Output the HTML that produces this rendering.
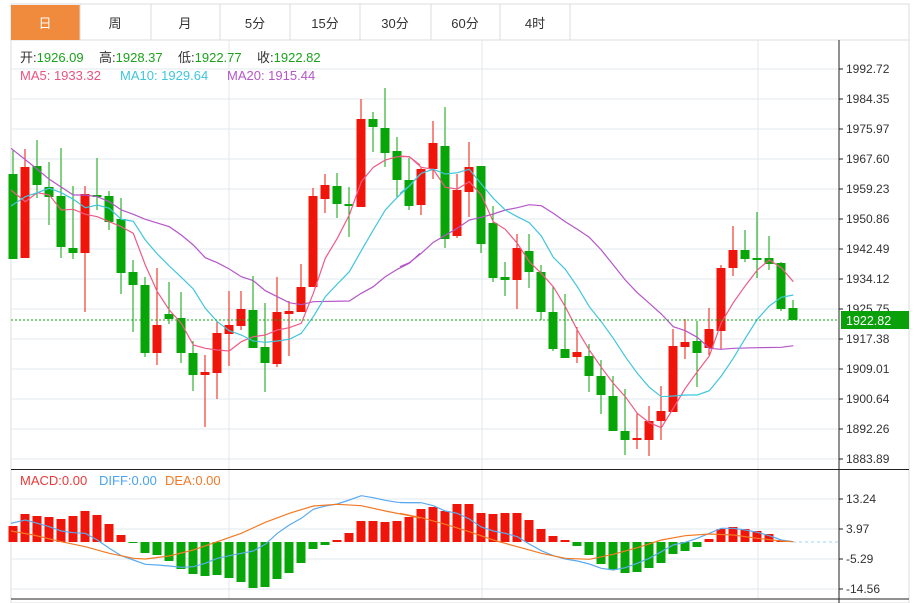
<!DOCTYPE html>
<html><head><meta charset="utf-8"><style>
body{margin:0;background:#fff;width:921px;height:603px;overflow:hidden;font-family:"Liberation Sans","Noto Sans CJK SC",sans-serif}
svg{position:absolute;left:0;top:0}
</style></head><body>
<svg id="s" width="921" height="603" xmlns="http://www.w3.org/2000/svg" font-family="Liberation Sans, Noto Sans CJK SC, sans-serif">
<rect x="11" y="4" width="898" height="599" fill="#fff" stroke="#dcdcdc"/>
<line x1="11" y1="40" x2="909" y2="40" stroke="#dcdcdc"/>
<rect x="11" y="5" width="69" height="35" fill="#f08a3c"/>
<g stroke="#dcdcdc"><line x1="80" y1="4" x2="80" y2="40"/><line x1="151" y1="4" x2="151" y2="40"/><line x1="220" y1="4" x2="220" y2="40"/><line x1="290" y1="4" x2="290" y2="40"/><line x1="360" y1="4" x2="360" y2="40"/><line x1="431" y1="4" x2="431" y2="40"/><line x1="500" y1="4" x2="500" y2="40"/><line x1="570" y1="4" x2="570" y2="40"/></g>
<g font-size="13" fill="#333" text-anchor="middle"><text x="45" y="28" fill="#fff">日</text><text x="115" y="28">周</text><text x="185" y="28">月</text><text x="255" y="28">5分</text><text x="325" y="28">15分</text><text x="395" y="28">30分</text><text x="465" y="28">60分</text><text x="535" y="28">4时</text></g>
<g id="grid" stroke="#e3e8ee"></g>
<g font-size="13"><text x="20" y="62" fill="#333">开:<tspan fill="#1aa31a">1926.09</tspan></text>
<text x="99" y="62" fill="#333">高:<tspan fill="#1aa31a">1928.37</tspan></text>
<text x="178" y="62" fill="#333">低:<tspan fill="#1aa31a">1922.77</tspan></text>
<text x="257" y="62" fill="#333">收:<tspan fill="#1aa31a">1922.82</tspan></text>
<text x="20" y="80" fill="#e9537f">MA5: 1933.32</text><text x="120" y="80" fill="#3ec6dc">MA10: 1929.64</text><text x="227" y="80" fill="#b556c9">MA20: 1915.44</text>
<text x="20" y="485" fill="#e83a3a">MACD:0.00</text><text x="99" y="485" fill="#4aa4f0">DIFF:0.00</text><text x="165" y="485" fill="#f07a2a">DEA:0.00</text></g>
<g id="c"></g>
<g id="l" fill="none" stroke-width="1.2"></g>
<line x1="11" y1="320" x2="839" y2="320" stroke="#12a812" stroke-dasharray="2,2"/>
<line x1="793" y1="542" x2="839" y2="542" stroke="#9fd6f0" stroke-dasharray="3,3"/>
<line x1="11" y1="469.5" x2="909" y2="469.5" stroke="#222"/>
<line x1="11" y1="599" x2="909" y2="599" stroke="#222"/>
<line x1="839" y1="40" x2="839" y2="603" stroke="#222"/>
<g id="ax" font-size="12" fill="#333"></g>
<rect x="841" y="311" width="68" height="18" fill="#0aa00a"/>
<text x="846" y="325" font-size="12.5" fill="#fff">1922.82</text>
</svg>
<script>
var NS="http://www.w3.org/2000/svg";
function el(p,t,a){var e=document.createElementNS(NS,t);for(var k in a)e.setAttribute(k,a[k]);document.getElementById(p).appendChild(e);return e;}
for(var y=69;y<=459;y+=30)el("grid","line",{x1:11,y1:y,x2:839,y2:y});
[499,529,559,589].forEach(function(y){el("grid","line",{x1:11,y1:y,x2:839,y2:y});});
[229,482,758].forEach(function(x){el("grid","line",{x1:x,y1:40,x2:x,y2:599});});
var labs=["1992.72","1984.35","1975.97","1967.60","1959.23","1950.86","1942.49","1934.12","1925.75","1917.38","1909.01","1900.64","1892.26","1883.89"];
labs.forEach(function(t,i){var y=69+30*i;el("ax","line",{x1:839,y1:y,x2:843,y2:y,stroke:"#222"});var e=el("ax","text",{x:846,y:y+4});e.textContent=t;});
[["13.24",499],["3.97",529],["-5.29",559],["-14.56",589]].forEach(function(a){el("ax","line",{x1:839,y1:a[1],x2:843,y2:a[1],stroke:"#222"});var e=el("ax","text",{x:846,y:a[1]+4});e.textContent=a[0];});
var C=[[174,259,150,259,'g'],[167,258,149,258,'r'],[166,185,140,198,'g'],[187,197,162,225,'g'],[196,247,148,258,'g'],[248,253,186,259,'g'],[194,253,186,312,'r'],[195,197,158,210,'g'],[196,222,191,230,'g'],[219,273,198,294,'g'],[272,285,260,332,'g'],[285,353,277,357,'g'],[325,353,268,365,'r'],[314,319,282,324,'g'],[318,353,292,363,'g'],[353,375,341,391,'g'],[372,375,355,427,'r'],[333,373,321,399,'r'],[325,334,291,366,'r'],[309,326,291,330,'r'],[310,348,276,348,'g'],[347,363,303,392,'g'],[312,364,277,367,'r'],[311,314,301,356,'r'],[287,312,264,312,'r'],[196,287,188,287,'r'],[185,199,174,213,'r'],[186,204,173,218,'g'],[204,206,187,237,'g'],[119,207,99,207,'r'],[119,127,112,152,'g'],[128,153,88,167,'g'],[151,180,137,197,'g'],[180,206,158,210,'g'],[169,205,167,215,'r'],[143,169,121,179,'r'],[146,239,107,248,'g'],[190,236,174,238,'r'],[167,192,142,217,'r'],[166,244,166,253,'g'],[223,278,206,282,'g'],[277,280,262,296,'g'],[248,280,234,309,'r'],[251,272,234,288,'g'],[272,312,265,320,'g'],[312,349,286,351,'g'],[349,358,294,358,'g'],[352,357,327,363,'r'],[356,376,344,392,'g'],[376,395,360,414,'g'],[396,431,376,431,'g'],[431,440,389,455,'g'],[438,440,413,449,'r'],[421,440,406,456,'r'],[411,421,386,440,'r'],[346,412,329,412,'r'],[342,347,319,359,'r'],[341,353,321,387,'g'],[329,348,308,355,'r'],[268,331,265,349,'r'],[250,268,226,276,'r'],[250,259,230,262,'g'],[258,260,212,278,'g'],[258,264,236,270,'g'],[263,309,262,311,'g'],[308,320,300,320,'g']];
var H=[526,514,516,517,519,516,511,515,524,535,543,553,555,561,569,574,576,575,578,582,588,587,579,573,563,549,545,540,533,521,521,522,521,517,509,507,511,504,504,513,514,513,513,520,529,536,540,546,555,564,570,573,572,568,563,554,551,547,539,529,527,529,531,534,540,542];
var RED="#f0150a",GRN="#07a507";
C.forEach(function(d,i){var x=13+12*i,col=d[4]=='r'?RED:GRN;
el("c","line",{x1:x,y1:d[2],x2:x,y2:d[3],stroke:col,"stroke-width":1});
el("c","rect",{x:x-4.5,y:d[0],width:9,height:Math.max(1.5,d[1]-d[0]),fill:col});
var h=H[i],z=542;var top=Math.min(h,z),ht=Math.abs(h-z);if(ht>0.5)el("c","rect",{x:x-4.5,y:top,width:9,height:ht,fill:h<z?RED:GRN});});
function pl(pts,ox,oy,col){var s=pts.map(function(p){return (ox+p[0]/3).toFixed(1)+","+(oy+p[1]/3).toFixed(1);}).join(" ");el("l","polyline",{points:s,stroke:col});}
var P="#b556c9",K="#ee5a86",B="#3ec6dc";
pl([[33,205],[100,258],[148,298],[220,345],[256,345],[292,350],[328,365],[364,390],[400,403],[436,418],[508,440],[544,465],[580,495],[616,533],[652,548],[688,567],[724,590],[760,602],[796,632],[832,650],[868,668],[904,674],[940,665],[1048,663],[1084,640],[1120,620],[1156,590],[1192,568],[1228,550],[1260,520]],0,80,P);
pl([[0,560],[28,548],[64,520],[100,487],[136,466],[172,445],[208,420],[244,412],[280,402],[316,390],[352,383],[388,374],[424,377],[460,400],[496,425],[532,448],[568,472],[604,510],[640,555],[676,600],[712,638],[748,670],[784,702],[820,740],[856,752],[892,772],[928,805],[964,808],[1000,805],[1072,803],[1144,802],[1180,797]],400,80,P);
pl([[33,330],[76,365],[112,338],[148,345],[184,390],[220,388],[256,403],[292,410],[328,425],[364,440],[400,460],[436,555],[472,635],[508,690],[544,730],[580,795],[616,805],[652,810],[688,813],[724,785],[760,770],[796,765],[832,750],[868,743],[904,730],[940,640],[976,535],[1012,475],[1048,405],[1084,305],[1120,262],[1156,240],[1192,230],[1228,230],[1260,255]],0,80,K);
pl([[0,228],[28,230],[64,262],[100,268],[136,322],[172,327],[208,305],[244,345],[280,425],[316,448],[352,490],[388,545],[424,580],[460,620],[496,680],[532,750],[568,810],[604,862],[640,910],[676,950],[712,1000],[748,1028],[784,1043],[820,985],[856,925],[892,875],[928,828],[964,728],[1000,668],[1036,617],[1072,570],[1108,540],[1144,563],[1180,605]],400,80,K);
pl([[33,378],[76,350],[112,338],[148,325],[184,338],[220,358],[256,383],[292,375],[328,385],[364,418],[400,424],[436,480],[472,522],[508,558],[544,592],[580,627],[616,685],[652,725],[688,752],[724,765],[760,783],[796,787],[832,783],[868,778],[904,760],[940,710],[976,650],[1012,612],[1048,575],[1084,512],[1120,450],[1156,390],[1192,352],[1228,318],[1260,283]],0,80,B);
pl([[0,340],[28,318],[64,280],[100,268],[136,282],[172,278],[208,268],[244,312],[280,355],[316,390],[352,410],[388,428],[424,468],[460,532],[496,568],[532,620],[568,680],[604,725],[640,775],[676,830],[712,880],[748,922],[784,950],[820,948],[856,945],[892,945],[928,932],[964,888],[1000,835],[1036,775],[1072,718],[1108,678],[1144,652],[1180,645]],400,80,B);
var DB="#5aaaf0",DO="#f27a24";
pl([[33,175],[76,165],[112,175],[148,185],[184,198],[220,203],[256,205],[292,225],[328,250],[364,272],[400,285],[436,298],[472,300],[508,303],[544,307],[580,305],[616,295],[652,280],[688,272],[724,265],[760,258],[796,238],[832,205],[868,180],[904,160],[940,133],[976,123],[1012,117],[1048,105],[1084,92],[1120,98],[1156,106],[1192,112],[1228,113],[1260,113]],0,465,DB);
pl([[0,113],[64,113],[100,122],[136,138],[172,145],[208,162],[244,186],[280,198],[316,205],[352,215],[388,237],[424,257],[460,272],[496,282],[532,288],[568,297],[604,310],[640,315],[676,308],[712,295],[748,280],[784,260],[820,240],[856,232],[892,220],[928,205],[964,190],[1000,190],[1036,195],[1072,202],[1108,212],[1144,225],[1180,230]],400,465,DB);
pl([[33,198],[100,210],[184,230],[256,245],[328,265],[400,280],[436,282],[508,273],[580,255],[652,230],[724,205],[796,172],[868,145],[940,123],[1012,118],[1084,122],[1156,138],[1228,152],[1260,160]],0,465,DO);
pl([[0,145],[64,158],[136,178],[208,200],[280,225],[352,245],[424,265],[496,280],[568,283],[640,268],[712,248],[784,225],[856,212],[928,207],[1000,210],[1072,220],[1144,228],[1180,230]],400,465,DO);
</script>
</body></html>
